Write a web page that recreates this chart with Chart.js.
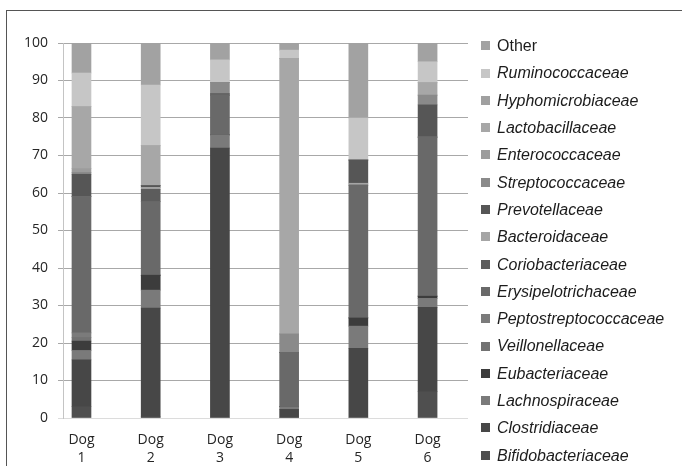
<!DOCTYPE html>
<html>
<head>
<meta charset="utf-8">
<script src="https://cdn.jsdelivr.net/npm/chart.js@4/dist/chart.umd.min.js"></script>
<style>
  html, body { margin: 0; padding: 0; background: #fff; overflow: hidden; }
  #wrap { position: relative; width: 682px; height: 466px; overflow: hidden; }
  #frame { position: absolute; left: 6px; top: 10px; width: 676px; height: 456px;
           border-top: 1px solid #555; border-left: 1px solid #555; box-sizing: border-box; pointer-events: none; }
  #c { position: absolute; left: 0; top: 0; }
</style>
</head>
<body>
<div id="wrap">
  <div id="frame"></div>
  <canvas id="c" width="682" height="466"></canvas>
</div>
<script>
// Relative abundance (%) of bacterial families per dog
const dogs = ['Dog 1', 'Dog 2', 'Dog 3', 'Dog 4', 'Dog 5', 'Dog 6'];
const yTicks = [0, 10, 20, 30, 40, 50, 60, 70, 80, 90, 100];

const bifidobacteriaceae    = [3,    0.3,  0,    0,    0,    7];
const clostridiaceae        = [12.5, 29,   72,   2.3,  18.6, 22.5];
const lachnospiraceae       = [2.5,  4.8,  3.5,  0.7,  5.9,  2.4];
const eubacteriaceae        = [2.5,  4,    0,    0,    2.2,  0.6];
const veillonellaceae       = [1,    0,    0,    0,    0,    0];
const peptostreptococcaceae = [1.2,  0,    0,    0,    0,    0];
const erysipelotrichaceae   = [36.3, 19.6, 10.6, 14.5, 35.4, 42.4];
const coriobacteriaceae     = [0,    3.3,  0,    0,    0,    0];
const bacteroidaceae        = [0,    0.5,  0,    0,    0.5,  0];
const prevotellaceae        = [6,    0.5,  0.4,  0,    6.2,  8.6];
const streptococcaceae      = [0.5,  0,    3,    4.9,  0,    2.6];
const enterococcaceae       = [1,    0,    0,    0,    0,    0];
const lactobacillaceae      = [16.5, 10.6, 0,    73.5, 0,    3.3];
const hyphomicrobiaceae     = [0,    0,    0,    0,    0,    0];
const ruminococcaceae       = [9,    16.2, 6,    2.2,  11.2, 5.6];
const other                 = [8,    11.2, 4.5,  1.9,  20,   5];

// Stack order, bottom to top
const series = [
  ['Bifidobacteriaceae',    bifidobacteriaceae,    '#4f4f4f'],
  ['Clostridiaceae',        clostridiaceae,        '#474747'],
  ['Lachnospiraceae',       lachnospiraceae,       '#7a7a7a'],
  ['Eubacteriaceae',        eubacteriaceae,        '#3c3c3c'],
  ['Veillonellaceae',       veillonellaceae,       '#727272'],
  ['Peptostreptococcaceae', peptostreptococcaceae, '#7b7b7b'],
  ['Erysipelotrichaceae',   erysipelotrichaceae,   '#696969'],
  ['Coriobacteriaceae',     coriobacteriaceae,     '#5c5c5c'],
  ['Bacteroidaceae',        bacteroidaceae,        '#a5a5a5'],
  ['Prevotellaceae',        prevotellaceae,        '#565656'],
  ['Streptococcaceae',      streptococcaceae,      '#8a8a8a'],
  ['Enterococcaceae',       enterococcaceae,       '#9c9c9c'],
  ['Lactobacillaceae',      lactobacillaceae,      '#a7a7a7'],
  ['Hyphomicrobiaceae',     hyphomicrobiaceae,     '#a0a0a0'],
  ['Ruminococcaceae',       ruminococcaceae,       '#c6c6c6'],
  ['Other',                 other,                 '#a2a2a2']
];

// Category positions on a numeric axis (1..6) with uneven side margins
const X_MIN = 0.733;
const X_MAX = 6.584;

const datasets = series.map(([label, values, color]) => ({
  label,
  data: values.map((v, i) => ({ x: i + 1, y: v })),
  backgroundColor: color,
  borderWidth: 0,
  barThickness: 19
}));

// Legend drawn at the right, top entry = top of stack
const sideLegend = {
  id: 'sideLegend',
  afterDraw(chart) {
    const ctx = chart.ctx;
    const items = chart.data.datasets.slice().reverse();
    ctx.save();
    ctx.textBaseline = 'middle';
    ctx.textAlign = 'left';
    items.forEach((ds, k) => {
      const y = 45.7 + k * 27.3;
      ctx.fillStyle = ds.backgroundColor;
      ctx.fillRect(481, Math.round(y - 4.5), 9, 9);
      ctx.fillStyle = '#1c1c1c';
      ctx.font = (ds.label === 'Other' ? '' : 'italic ') + '16px "Liberation Sans", Arial, sans-serif';
      ctx.fillText(ds.label, 497, y + 1);
    });
    ctx.restore();
  }
};

new Chart(document.getElementById('c'), {
  type: 'bar',
  data: { datasets },
  plugins: [sideLegend],
  options: {
    responsive: false,
    animation: false,
    devicePixelRatio: 1,
    events: [],
    layout: { padding: { left: 0, top: 43, right: 214, bottom: 0 } },
    plugins: { legend: { display: false }, tooltip: { enabled: false } },
    scales: {
      x: {
        type: 'linear',
        stacked: true,
        offset: false,
        min: X_MIN,
        max: X_MAX,
        afterBuildTicks(s) { s.ticks = dogs.map((_, i) => ({ value: i + 1 })); },
        afterFit(s) { s.height = 48; },
        grid: { display: false, drawTicks: false },
        border: { display: false },
        ticks: {
          padding: 13,
          color: '#262626',
          font: { family: '"Open Sans", sans-serif', size: 14, lineHeight: 1.3 },
          maxRotation: 0,
          autoSkip: false,
          callback: (v) => dogs[v - 1] ? dogs[v - 1].split(' ') : ''
        }
      },
      y: {
        stacked: true,
        min: 0,
        max: 100,
        afterBuildTicks(s) { s.ticks = yTicks.map(v => ({ value: v })); },
        afterFit(s) { s.width = 63; },
        grid: {
          color: (c) => (c.tick && c.tick.value === 0) ? '#dcdcdc' : '#a8a8a8',
          tickLength: 5,
          lineWidth: 1
        },
        border: { display: true, color: '#c4c4c4' },
        ticks: {
          padding: 10,
          color: '#262626',
          font: { family: '"Open Sans", sans-serif', size: 14 }
        }
      }
    }
  }
});
</script>
</body>
</html>
